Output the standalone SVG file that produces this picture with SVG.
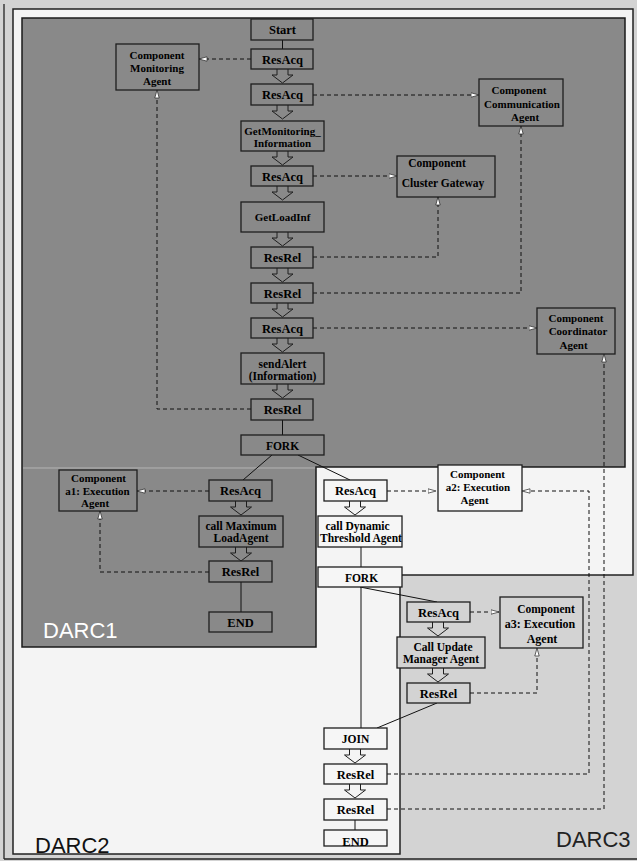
<svg xmlns="http://www.w3.org/2000/svg" width="637" height="861" viewBox="0 0 637 861">
<style>
.nd1{fill:#898989;stroke:#1e1e1e;stroke-width:1.3}
.nd2{fill:#f6f6f6;stroke:#1e1e1e;stroke-width:1.3}
.nd3{fill:#d3d3d3;stroke:#1e1e1e;stroke-width:1.3}
text{font-family:"Liberation Serif","Times New Roman",serif;font-weight:bold;fill:#000;text-anchor:middle;font-size:11.5px}
.w{font-size:12.5px}
.s{font-size:11px}
.e{font-size:12px}
.c{font-size:11px}
.lbl{font-family:"Liberation Sans",Arial,sans-serif;font-weight:normal;font-size:22px;text-anchor:start}
.ln{fill:none;stroke:#111;stroke-width:1}
.ds{fill:none;stroke:#111;stroke-width:1;stroke-dasharray:4 3;marker-end:url(#ah)}
.blk{fill:none;stroke:#1e1e1e;stroke-width:1}
</style>
<defs>
<marker id="ah" markerWidth="10" markerHeight="7" refX="8.5" refY="3" orient="auto" markerUnits="userSpaceOnUse">
<path d="M0.5,0.8 L8.5,3 L0.5,5.2 Z" fill="#fff" stroke="#222" stroke-width="0.7" stroke-dasharray="none"/>
</marker>
<path id="blk" d="M-5.5,0 V6 H-10.5 L0,14 L10.5,6 H5.5 V0"/>
</defs>

<!-- background / regions -->
<rect x="0" y="0" width="637" height="861" fill="#d3d3d3"/>
<g id="frame">
<line x1="4" y1="4" x2="4" y2="859" stroke="#222" stroke-width="1.3"/>
<line x1="4" y1="859" x2="637" y2="859" stroke="#222" stroke-width="1.5"/>
</g>
<g id="DARC2">
<polygon points="13,9 633,9 633,575 400,575 400,854 13,854" fill="#f4f4f4" stroke="#222" stroke-width="1.5"/>
<text class="lbl" x="35" y="853" style="fill:#111">DARC2</text>
</g>
<g id="DARC3">
<text class="lbl" x="556" y="847" style="fill:#222">DARC3</text>
</g>
<g id="DARC1">
<polygon points="22,18 625,18 625,467 316,467 316,647 22,647" fill="#898989" stroke="#1a1a1a" stroke-width="1.5"/>
<line x1="23" y1="468" x2="315" y2="468" stroke="#b4b4b4" stroke-width="1"/>
<text class="lbl" x="43" y="638" style="fill:#fff">DARC1</text>
</g>

<!-- connectors -->
<g id="connectors">
<line class="ln" x1="282.5" y1="40" x2="282.5" y2="49"/>
<line class="ln" x1="282.5" y1="420" x2="282.5" y2="435"/>
<line class="ln" x1="272" y1="455" x2="243" y2="480"/>
<line class="ln" x1="298" y1="455" x2="350" y2="480"/>
<line class="ln" x1="241" y1="582" x2="241" y2="612"/>
<line class="ln" x1="361" y1="547" x2="361" y2="567"/>
<line class="ln" x1="361" y1="587" x2="361" y2="728"/>
<line class="ln" x1="360" y1="587" x2="437" y2="602"/>
<line class="ln" x1="437" y1="703" x2="377" y2="728"/>
<line class="ln" x1="355" y1="820" x2="355" y2="830"/>

<g class="blk">
<use href="#blk" x="282.5" y="69"/>
<use href="#blk" x="282.5" y="105"/>
<use href="#blk" x="282.5" y="151"/>
<use href="#blk" x="282.5" y="186"/>
<use href="#blk" x="282.5" y="232"/>
<use href="#blk" x="282.5" y="268"/>
<use href="#blk" x="282.5" y="303"/>
<use href="#blk" x="282.5" y="338"/>
<use href="#blk" x="282.5" y="384"/>
<use href="#blk" x="241" y="501"/>
<use href="#blk" x="241" y="547"/>
<use href="#blk" x="355" y="501"/>
<use href="#blk" x="355" y="749"/>
<use href="#blk" x="355" y="784"/>
<use href="#blk" x="438" y="622"/>
<use href="#blk" x="438" y="668"/>
</g>

<path class="ds" d="M251,59 H199"/>
<path class="ds" d="M251,409 H157 V90"/>
<path class="ds" d="M313,95 H479"/>
<path class="ds" d="M313,293 H521 V126"/>
<path class="ds" d="M313,176 H397"/>
<path class="ds" d="M313,257 H438 V197"/>
<path class="ds" d="M313,328 H537"/>
<path class="ds" d="M387,809 H604 V354"/>
<path class="ds" d="M209,491 H137"/>
<path class="ds" d="M209,572 H100 V511"/>
<path class="ds" d="M387,491 H436"/>
<path class="ds" d="M387,774 H589 V491 H522"/>
<path class="ds" d="M470,612 H499"/>
<path class="ds" d="M470,693 H537 V648"/>
</g>

<!-- DARC1 top column -->
<g id="start"><rect class="nd1" x="251" y="19" width="62" height="21"/><text class="w" x="282.5" y="34">Start</text></g>
<g id="resacq1"><rect class="nd1" x="251" y="49" width="62" height="20"/><text class="w" x="282.5" y="63.5">ResAcq</text></g>
<g id="resacq2"><rect class="nd1" x="251" y="84" width="62" height="21"/><text class="w" x="282.5" y="99">ResAcq</text></g>
<g id="getmon"><rect class="nd1" x="241" y="121" width="83" height="30"/><text class="s" x="282.5" y="135">GetMonitoring_</text><text class="s" x="282.5" y="147">Information</text></g>
<g id="resacq3"><rect class="nd1" x="251" y="166" width="62" height="20"/><text class="w" x="282.5" y="180.5">ResAcq</text></g>
<g id="getload"><rect class="nd1" x="241" y="202" width="83" height="30"/><text class="s" x="282.5" y="221">GetLoadInf</text></g>
<g id="resrel1"><rect class="nd1" x="251" y="247" width="62" height="21"/><text class="w" x="282.5" y="262">ResRel</text></g>
<g id="resrel2"><rect class="nd1" x="251" y="283" width="62" height="20"/><text class="w" x="282.5" y="297.5">ResRel</text></g>
<g id="resacq4"><rect class="nd1" x="251" y="318" width="62" height="20"/><text class="w" x="282.5" y="332.5">ResAcq</text></g>
<g id="sendalert"><rect class="nd1" x="241" y="353" width="83" height="31"/><text x="282.5" y="367.5">sendAlert</text><text x="282.5" y="380">(Information)</text></g>
<g id="resrel3"><rect class="nd1" x="251" y="399" width="62" height="21"/><text class="w" x="282.5" y="414">ResRel</text></g>
<g id="fork1"><rect class="nd1" x="241" y="435" width="83" height="20"/><text x="282.5" y="449.5">FORK</text></g>

<!-- DARC1 components -->
<g id="monitoring"><rect class="nd1" x="116" y="44" width="83" height="46"/><text class="c" x="157" y="58.5">Component</text><text class="c" x="157" y="72">Monitoring</text><text class="c" x="157" y="85">Agent</text></g>
<g id="communication"><rect class="nd1" x="479" y="79" width="84" height="47"/><text class="c" x="519" y="94">Component</text><text class="s" x="522" y="107.5">Communication</text><text class="c" x="525" y="120.5">Agent</text></g>
<g id="gateway"><rect class="nd1" x="397" y="156" width="98" height="41"/><text x="437" y="167">Component</text><text x="443" y="186.5">Cluster Gateway</text></g>
<g id="coordinator"><rect class="nd1" x="537" y="308" width="78" height="46"/><text class="c" x="576" y="321.5">Component</text><text class="c" x="578" y="335">Coordinator</text><text class="c" x="573.5" y="348.5">Agent</text></g>

<!-- DARC1 lower branch -->
<g id="resacq_d1"><rect class="nd1" x="209" y="480" width="63" height="21"/><text class="w" x="240.5" y="495">ResAcq</text></g>
<g id="callmax"><rect class="nd1" x="199" y="516" width="84" height="31"/><text x="241" y="529.5">call Maximum</text><text x="241" y="542">LoadAgent</text></g>
<g id="resrel_d1"><rect class="nd1" x="209" y="561" width="63" height="21"/><text class="w" x="240.5" y="576">ResRel</text></g>
<g id="end_d1"><rect class="nd1" x="209" y="612" width="63" height="20"/><text class="w" x="240.5" y="626.5">END</text></g>
<g id="a1"><rect class="nd1" x="59" y="470" width="78" height="41"/><text class="c" x="98.5" y="482">Component</text><text class="c" x="97.5" y="494.5">a1: Execution</text><text class="c" x="95" y="507">Agent</text></g>

<!-- DARC2 -->
<g id="resacq_d2"><rect class="nd2" x="324" y="480" width="63" height="21"/><text class="w" x="355.5" y="495">ResAcq</text></g>
<g id="calldyn"><rect class="nd2" x="318" y="516" width="84" height="31"/><text x="357.5" y="529.5">call Dynamic</text><text x="361" y="542">Threshold Agent</text></g>
<g id="fork2"><rect class="nd2" x="318" y="567" width="84" height="20"/><text x="361.5" y="581.5">FORK</text></g>
<g id="a2"><rect class="nd2" x="438" y="465" width="84" height="46"/><text class="c" x="477.5" y="478">Component</text><text class="c" x="478" y="491">a2: Execution</text><text class="c" x="474.5" y="504">Agent</text></g>
<g id="join"><rect class="nd2" x="324" y="728" width="63" height="21"/><text x="355.5" y="743">JOIN</text></g>
<g id="resrelA"><rect class="nd2" x="324" y="764" width="63" height="20"/><text class="w" x="355.5" y="778.5">ResRel</text></g>
<g id="resrelB"><rect class="nd2" x="324" y="799" width="63" height="21"/><text class="w" x="355.5" y="814">ResRel</text></g>
<g id="end_d2"><rect class="nd2" x="324" y="830" width="63" height="16"/><text class="w" x="355.5" y="846">END</text></g>

<!-- DARC3 -->
<g id="resacq_d3"><rect class="nd3" x="407" y="602" width="63" height="20"/><text class="w" x="438.5" y="616.5">ResAcq</text></g>
<g id="callupd"><rect class="nd3" x="397" y="637" width="88" height="31"/><text x="443" y="650.5">Call Update</text><text x="441" y="663">Manager Agent</text></g>
<g id="resrel_d3"><rect class="nd3" x="407" y="683" width="63" height="20"/><text class="w" x="438.5" y="697.5">ResRel</text></g>
<g id="a3"><rect class="nd3" x="500" y="597" width="83" height="51"/><text x="546" y="613">Component</text><text class="e" x="540" y="628">a3: Execution</text><text class="e" x="542" y="643">Agent</text></g>
</svg>
